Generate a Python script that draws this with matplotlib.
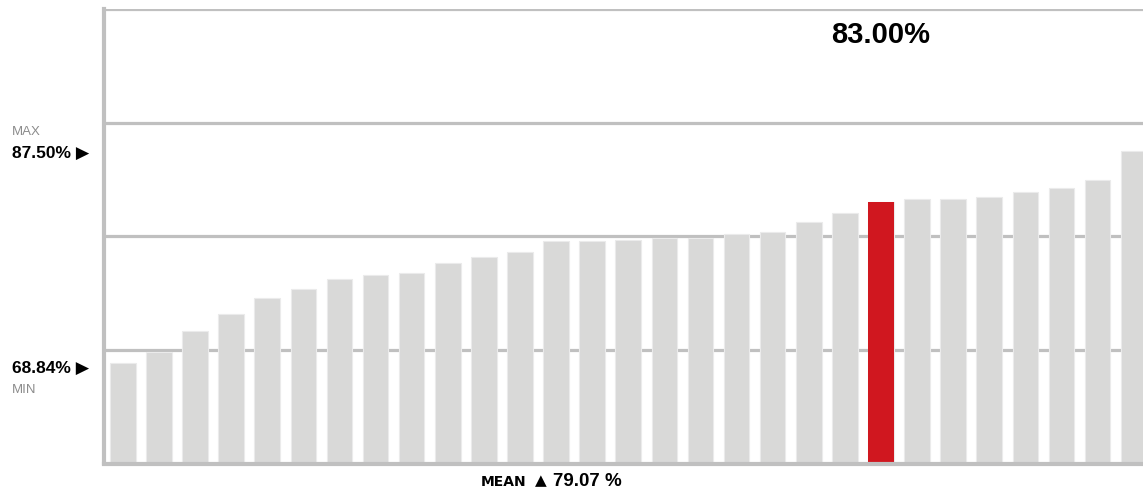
import numpy as np
import matplotlib.pyplot as plt

# valores (ordenados de menor a mayor)
values = [68.84, 69.78, 71.64, 73.18, 74.58, 75.38, 76.29, 76.62, 76.77, 77.69,
          78.16, 78.67, 79.56, 79.56, 79.73, 79.88, 79.88, 80.18, 80.36, 81.27,
          82.04, 83.00, 83.29, 83.29, 83.47, 83.94, 84.24, 85.00, 87.50]
highlight = 21
highlight_label = "83.00%"
max_label = "87.50%"
min_label = "68.84%"
mean_label = "79.07 %"
mean_pos = 11.58
gridlines = [70, 80, 90, 100]

gray_bar = '#d9d9d8'
gray_line = '#c0c0c0'
red = '#d0171f'

x = np.arange(len(values))
colors = [red if i == highlight else gray_bar for i in x]

fig = plt.figure(figsize=(11.43, 4.91), dpi=100)
ax = fig.add_axes([104 / 1143, (491 - 463.5) / 491, (1143 - 104) / 1143, (463.5 - 9.5) / 491])

for g in gridlines:
    ax.axhline(g, color=gray_line, lw=2.3, zorder=1)

ax.bar(x, values, width=0.71, color=colors, edgecolor='#ebebeb', linewidth=0.8,
       zorder=2)
ax.bar(x[highlight], values[highlight], width=0.71, color=red, zorder=3)

ax.set_xlim(-0.522, 28.26)
ax.set_ylim(60, 100)
ax.set_xticks([])
ax.set_yticks([])
for s in ['top', 'right']:
    ax.spines[s].set_visible(False)
for s in ['left', 'bottom']:
    ax.spines[s].set_color(gray_line)
    ax.spines[s].set_linewidth(3)
    ax.spines[s].set_zorder(4)

sans = ['Liberation Sans', 'DejaVu Sans']

# etiqueta del valor destacado
ax.text(x[highlight], 97.75, highlight_label, ha='center', va='center',
        fontsize=21, fontweight='bold', family=sans, color='black')

# etiquetas de max y min a la izquierda
trans = ax.get_yaxis_transform()
lx = -0.089
ax.text(lx, max(values) - 0.15, max_label + " \u25B6", transform=trans, ha='left', va='center',
        fontsize=12.5, fontweight='bold', family=sans, color='black', clip_on=False)
ax.text(lx, max(values) + 1.75, "MAX", transform=trans, ha='left', va='center',
        fontsize=9.5, family=sans, color='#8c8c8c', clip_on=False)
ax.text(lx, min(values) - 0.45, min_label + " \u25B6", transform=trans, ha='left', va='center',
        fontsize=12.5, fontweight='bold', family=sans, color='black', clip_on=False)
ax.text(lx, min(values) - 2.35, "MIN", transform=trans, ha='left', va='center',
        fontsize=9.5, family=sans, color='#8c8c8c', clip_on=False)

# media debajo del eje
ax.text(mean_pos, 58.45, "\u25B2", ha='center', va='center', fontsize=11,
        family=['DejaVu Sans'], color='black', clip_on=False)
ax.text(mean_pos - 0.4, 58.4, "MEAN", ha='right', va='center', fontsize=10,
        fontweight='bold', family=['DejaVu Sans'], color='black', clip_on=False)
ax.text(mean_pos + 0.33, 58.45, mean_label, ha='left', va='center', fontsize=13.5,
        fontweight='bold', family=sans, color='black', clip_on=False)

fig.savefig('out.png', dpi=100)
